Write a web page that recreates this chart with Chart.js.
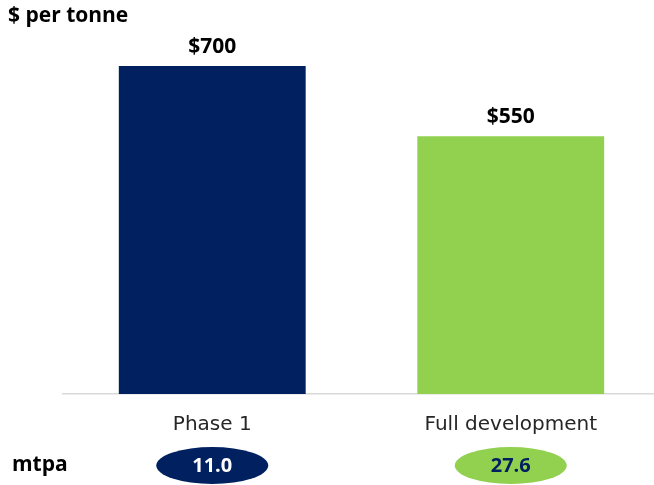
<!DOCTYPE html>
<html>
<head>
<meta charset="utf-8">
<script src="https://cdn.jsdelivr.net/npm/chart.js@4"></script>
<style>
  html, body { margin: 0; padding: 0; background: #fff; overflow: hidden; }
  #wrap { width: 654px; height: 485px; overflow: hidden; }
</style>
</head>
<body>
<div id="wrap"><canvas id="costChart" width="660" height="485"></canvas></div>
<script>
// dati del grafico
var categories = ['Phase 1', 'Full development'];
var costPerTonne = [700, 550];
var valueLabels = ['$700', '$550'];
var mtpaValues = ['11.0', '27.6'];
var barColors = ['#002060', '#92D050'];
var mtpaTextColors = ['#ffffff', '#002060'];

var FONT = "'Open Sans', 'Noto Sans', sans-serif";

// plugin per etichette, titolo e ellissi mtpa
var extrasPlugin = {
  id: 'extras',
  afterDraw: function(chart) {
    var ctx = chart.ctx;
    var meta = chart.getDatasetMeta(0);
    var xScale = chart.scales.x;
    ctx.save();

    // titolo in alto a sinistra
    ctx.fillStyle = '#000';
    ctx.font = 'bold 21px ' + FONT;
    ctx.textAlign = 'left';
    ctx.textBaseline = 'middle';
    ctx.fillText('$ per tonne', 8, 16);

    // valori sopra le barre
    ctx.font = 'bold 21px ' + FONT;
    ctx.textAlign = 'center';
    for (var i = 0; i < meta.data.length; i++) {
      var bar = meta.data[i];
      ctx.fillText(valueLabels[i], bar.x, bar.y - 19);
    }

    // etichetta mtpa
    ctx.textAlign = 'left';
    ctx.font = 'bold 21px ' + FONT;
    ctx.fillText('mtpa', 12, 465);

    // ellissi con valori mtpa
    for (var j = 0; j < categories.length; j++) {
      var cx = xScale.getPixelForValue(j);
      ctx.beginPath();
      ctx.ellipse(cx, 465.5, 56, 18.5, 0, 0, Math.PI * 2);
      ctx.fillStyle = barColors[j];
      ctx.fill();
      ctx.fillStyle = mtpaTextColors[j];
      ctx.font = 'bold 20px ' + FONT;
      ctx.textAlign = 'center';
      ctx.fillText(mtpaValues[j], cx, 466);
    }
    ctx.restore();
  }
};

var chart = new Chart(document.getElementById('costChart'), {
  type: 'bar',
  data: {
    labels: categories,
    datasets: [{
      data: costPerTonne,
      backgroundColor: barColors,
      borderWidth: 0,
      barPercentage: 1,
      categoryPercentage: 0.626
    }]
  },
  options: {
    responsive: false,
    animation: false,
    layout: { padding: { top: 19, left: 63, right: 0, bottom: 29 } },
    plugins: {
      legend: { display: false },
      tooltip: { enabled: false }
    },
    scales: {
      x: {
        grid: { display: false, drawTicks: false },
        border: { display: true, color: '#d9d9d9', width: 1.5 },
        ticks: {
          padding: 19,
          color: '#262626',
          font: { family: "'DejaVu Sans', sans-serif", size: 20 }
        }
      },
      y: {
        display: false,
        min: 0,
        max: 800
      }
    }
  },
  plugins: [extrasPlugin]
});
</script>
</body>
</html>
